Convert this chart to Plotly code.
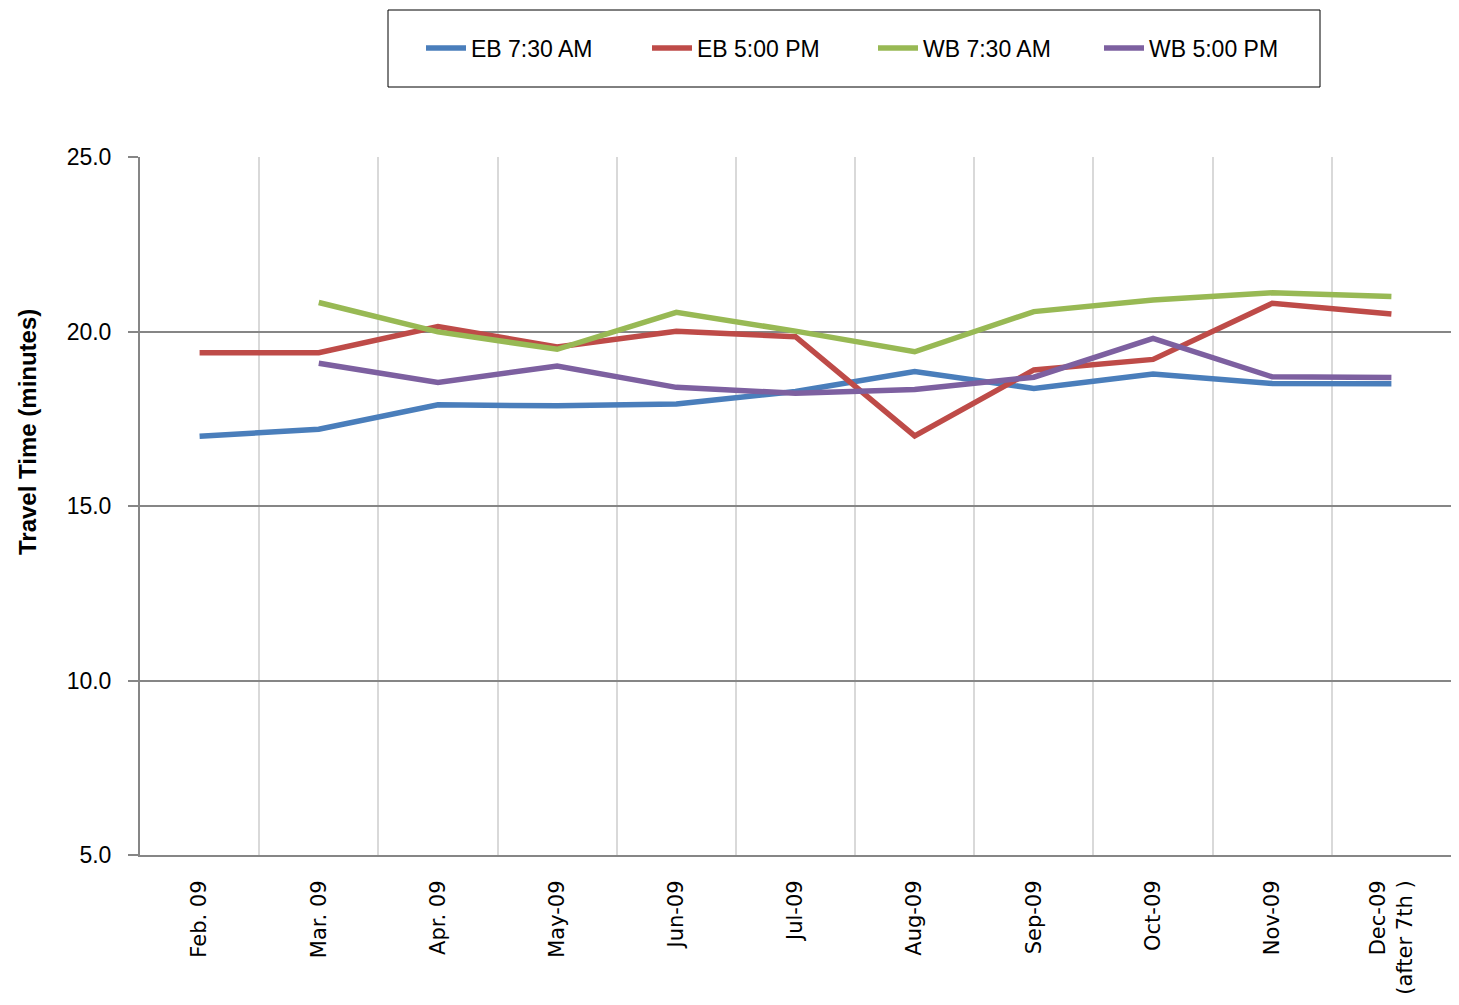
import plotly.graph_objects as go

categories = ["Feb. 09", "Mar. 09", "Apr. 09", "May-09", "Jun-09", "Jul-09",
              "Aug-09", "Sep-09", "Oct-09", "Nov-09", "Dec-09<br>(after 7th )"]

eb_730am = [17.0, 17.2, 17.9, 17.87, 17.92, 18.28, 18.85, 18.37, 18.78, 18.51, 18.5]
eb_500pm = [19.39, 19.39, 20.14, 19.56, 20.01, 19.85, 17.01, 18.9, 19.2, 20.81, 20.5]
wb_730am = [None, 20.83, 19.99, 19.49, 20.55, 20.01, 19.42, 20.57, 20.9, 21.11, 21.0]
wb_500pm = [None, 19.09, 18.54, 19.01, 18.4, 18.23, 18.34, 18.69, 19.8, 18.7, 18.68]

series_names = ["EB 7:30 AM", "EB 5:00 PM", "WB 7:30 AM", "WB 5:00 PM"]
series_values = [eb_730am, eb_500pm, wb_730am, wb_500pm]
series_colors = ["#4a7ebb", "#be4b48", "#98b954", "#7d60a0"]

y_ticks = [5.0, 10.0, 15.0, 20.0, 25.0]

fig = go.Figure()
for name, vals, col in zip(series_names, series_values, series_colors):
    fig.add_trace(go.Scatter(
        x=categories, y=vals, name=name, mode="lines",
        line=dict(color=col, width=5.5), connectgaps=False,
    ))

OFF = 8  # page body margin
W, H = 1443, 989
L = 140 - OFF
R = 0
T = 157 - OFF
B = H - (855 - OFF)
pw, ph = W - L - R, H - T - B

def px_x(x):
    return (x - OFF - L) / pw

def px_y(y):
    return (H - B - (y - OFF)) / ph

fig.update_layout(
    width=W, height=H,
    margin=dict(l=L, r=R, t=T, b=B, pad=0),
    paper_bgcolor="white", plot_bgcolor="white",
    font=dict(family="Liberation Sans, Arial, sans-serif", color="black"),
    showlegend=True,
    legend=dict(
        orientation="h",
        x=px_x(421), xanchor="left",
        y=px_y(48), yanchor="middle",
        font=dict(family="Liberation Sans, Arial, sans-serif", size=23, color="black"),
        bgcolor="rgba(0,0,0,0)", borderwidth=0,
        entrywidth=171, entrywidthmode="pixels",
        itemwidth=40,
    ),
    xaxis=dict(
        type="category",
        tickson="boundaries",
        showgrid=True, gridcolor="#d9d9d9", gridwidth=2,
        showline=True, linecolor="#868686", linewidth=2,
        ticks="",
        tickangle=-90,
        tickfont=dict(family="DejaVu Sans, sans-serif", size=21, color="black"),
        ticklabelstandoff=15,
        range=[-0.5, 10.5],
        zeroline=False,
    ),
    yaxis=dict(
        range=[5, 25],
        tickvals=y_ticks,
        tickformat=".1f",
        showgrid=True, gridcolor="#868686", gridwidth=2,
        showline=True, linecolor="#868686", linewidth=2,
        ticks="outside", ticklen=10, tickcolor="#868686", tickwidth=2,
        tickfont=dict(family="Liberation Sans, Arial, sans-serif", size=23, color="black"),
        ticklabelstandoff=12,
        zeroline=False,
    ),
    shapes=[dict(
        type="rect", xref="paper", yref="paper",
        x0=px_x(388), x1=px_x(1320), y0=px_y(87), y1=px_y(10),
        line=dict(color="black", width=1), fillcolor="rgba(0,0,0,0)",
        layer="above",
    )],
    annotations=[dict(
        text="<b>Travel Time (minutes)</b>",
        xref="paper", yref="paper",
        x=px_x(27), y=px_y(432),
        xanchor="center", yanchor="middle",
        textangle=-90, showarrow=False,
        font=dict(family="Liberation Sans, Arial, sans-serif", size=24, color="black"),
    )],
)

fig.write_html("out.html")
